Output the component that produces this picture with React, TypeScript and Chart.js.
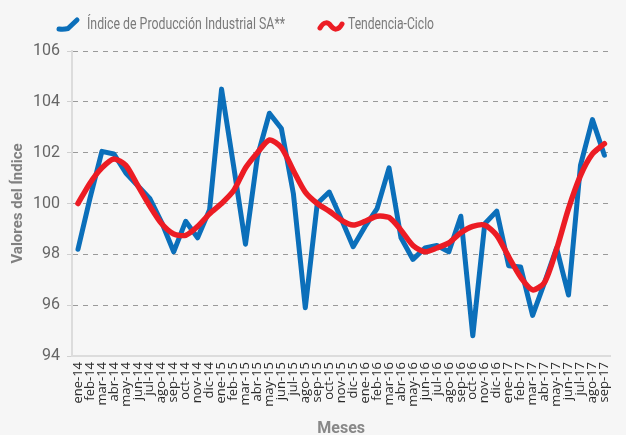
import React, { useEffect, useRef } from 'react';
import { Chart, registerables } from 'chart.js';

Chart.register(...registerables);

const months = [
  'ene-14', 'feb-14', 'mar-14', 'abr-14', 'may-14', 'jun-14', 'jul-14', 'ago-14', 'sep-14', 'oct-14', 'nov-14', 'dic-14',
  'ene-15', 'feb-15', 'mar-15', 'abr-15', 'may-15', 'jun-15', 'jul-15', 'ago-15', 'sep-15', 'oct-15', 'nov-15', 'dic-15',
  'ene-16', 'feb-16', 'mar-16', 'abr-16', 'may-16', 'jun-16', 'jul-16', 'ago-16', 'sep-16', 'oct-16', 'nov-16', 'dic-16',
  'ene-17', 'feb-17', 'mar-17', 'abr-17', 'may-17', 'jun-17', 'jul-17', 'ago-17', 'sep-17',
];

const indiceProduccionSA = [
  98.2, 100.2, 102.05, 101.95, 101.2, 100.7, 100.2, 99.25, 98.1, 99.3, 98.65, 99.75,
  104.5, 101.5, 98.4, 101.85, 103.55, 102.95, 100.4, 95.9, 100.0, 100.45, 99.4, 98.3,
  99.1, 99.8, 101.4, 98.65, 97.8, 98.25, 98.35, 98.1, 99.5, 94.8, 99.2, 99.7,
  97.55, 97.5, 95.6, 96.9, 98.25, 96.4, 101.5, 103.3, 101.9,
];

const tendenciaCiclo = [
  100.0, 100.8, 101.4, 101.75, 101.5, 100.7, 99.9, 99.2, 98.8, 98.75, 99.1, 99.6,
  100.0, 100.5, 101.4, 102.0, 102.5, 102.2, 101.3, 100.45, 100.0, 99.7, 99.35, 99.15,
  99.3, 99.5, 99.45, 98.95, 98.35, 98.1, 98.25, 98.45, 98.85, 99.1, 99.15, 98.75,
  97.9, 97.1, 96.6, 96.9, 98.2, 99.8, 101.1, 101.95, 102.35,
];

const seriesLabels = ['Índice de Producción Industrial SA**', 'Tendencia-Ciclo'];
const yMin = 94;
const yMax = 106;
const yStep = 2;

const BLUE = '#0b6fba';
const RED = '#ec1c24';
const BG = '#f6f6f6';

function drawCondensed(ctx: CanvasRenderingContext2D, text: string, x: number, y: number, targetWidth: number) {
  const w = ctx.measureText(text).width;
  const s = w > 0 ? targetWidth / w : 1;
  ctx.save();
  ctx.translate(x, y);
  ctx.scale(s, 1);
  ctx.fillText(text, 0, 0);
  ctx.restore();
}

const legendPlugin = {
  id: 'customLegend',
  afterDraw(chart: any) {
    const ctx = chart.ctx as CanvasRenderingContext2D;
    const ds = chart.data.datasets;
    ctx.save();
    ctx.lineCap = 'round';
    ctx.lineJoin = 'round';
    // blue icon
    ctx.strokeStyle = ds[0].borderColor;
    ctx.lineWidth = 5;
    ctx.beginPath();
    ctx.moveTo(59, 29);
    ctx.quadraticCurveTo(64, 29.5, 68, 28.5);
    ctx.lineTo(77, 20);
    ctx.stroke();
    // red icon
    ctx.strokeStyle = ds[1].borderColor;
    ctx.lineWidth = 5;
    ctx.beginPath();
    ctx.moveTo(320, 28);
    ctx.bezierCurveTo(324, 21, 328, 22, 331, 26);
    ctx.bezierCurveTo(334, 30, 338, 31, 342, 24);
    ctx.stroke();
    ctx.font = '16px Roboto, sans-serif';
    ctx.fillStyle = '#7a7a7a';
    ctx.textBaseline = 'middle';
    ctx.textAlign = 'left';
    drawCondensed(ctx, ds[0].label, 87, 25, 198);
    drawCondensed(ctx, ds[1].label, 348, 25, 86);
    ctx.restore();
  },
};

export default function App() {
  const canvasRef = useRef<HTMLCanvasElement | null>(null);

  useEffect(() => {
    document.body.style.margin = '0';
    document.body.style.background = BG;
    const canvas = canvasRef.current;
    if (!canvas) return;
    const chart = new Chart(canvas, {
      type: 'line',
      data: {
        labels: months,
        datasets: [
          {
            label: seriesLabels[0],
            data: indiceProduccionSA,
            borderColor: BLUE,
            backgroundColor: BLUE,
            borderWidth: 5,
            pointRadius: 0,
            tension: 0,
            borderJoinStyle: 'round',
            borderCapStyle: 'round',
            order: 1,
          },
          {
            label: seriesLabels[1],
            data: tendenciaCiclo,
            borderColor: RED,
            backgroundColor: RED,
            borderWidth: 5.5,
            pointRadius: 0,
            tension: 0.25,
            borderJoinStyle: 'round',
            borderCapStyle: 'round',
            order: 0,
          },
        ],
      },
      options: {
        animation: false,
        responsive: false,
        maintainAspectRatio: false,
        layout: { padding: { top: 51, left: 9, right: 0, bottom: 0 } },
        plugins: {
          legend: { display: false },
          tooltip: { enabled: false },
        },
        scales: {
          x: {
            offset: true,
            grid: { display: false, drawTicks: false },
            border: { display: true, color: '#dcdcdc', width: 2 },
            ticks: {
              autoSkip: false,
              minRotation: 90,
              maxRotation: 90,
              padding: 6,
              color: '#2a2a2a',
              font: { family: '"Open Sans", sans-serif', size: 13 },
            },
            title: {
              display: true,
              text: 'Meses',
              color: '#888',
              font: { family: 'Roboto, sans-serif', size: 16, weight: 'bold' },
              padding: { top: 0, bottom: -4 },
            },
            afterFit(scale: any) {
              scale.height = 79;
            },
          },
          y: {
            min: yMin,
            max: yMax,
            ticks: {
              stepSize: yStep,
              padding: 7,
              color: '#666',
              font: { family: 'Roboto, sans-serif', size: 16 },
            },
            grid: {
              color: (c: any) => (c.tick && c.tick.value === yMin ? 'rgba(0,0,0,0)' : '#9a9a9a'),
              lineWidth: 1,
              tickColor: '#d0d0d0',
              tickLength: 5,
              tickBorderDash: [],
            },
            border: { display: true, color: '#dcdcdc', width: 2, dash: [5, 5] },
            title: {
              display: true,
              text: 'Valores del Índice',
              color: '#808080',
              font: { family: 'Roboto, sans-serif', size: 15, weight: 'bold' },
              padding: { top: 0, bottom: 4 },
            },
            afterFit(scale: any) {
              scale.width = 63;
            },
          },
        },
      },
      plugins: [legendPlugin],
    });
    return () => chart.destroy();
  }, []);

  return (
    <div style={{ width: 626, height: 435, background: BG }}>
      <canvas ref={canvasRef} width={626} height={435} style={{ display: 'block' }} />
    </div>
  );
}
